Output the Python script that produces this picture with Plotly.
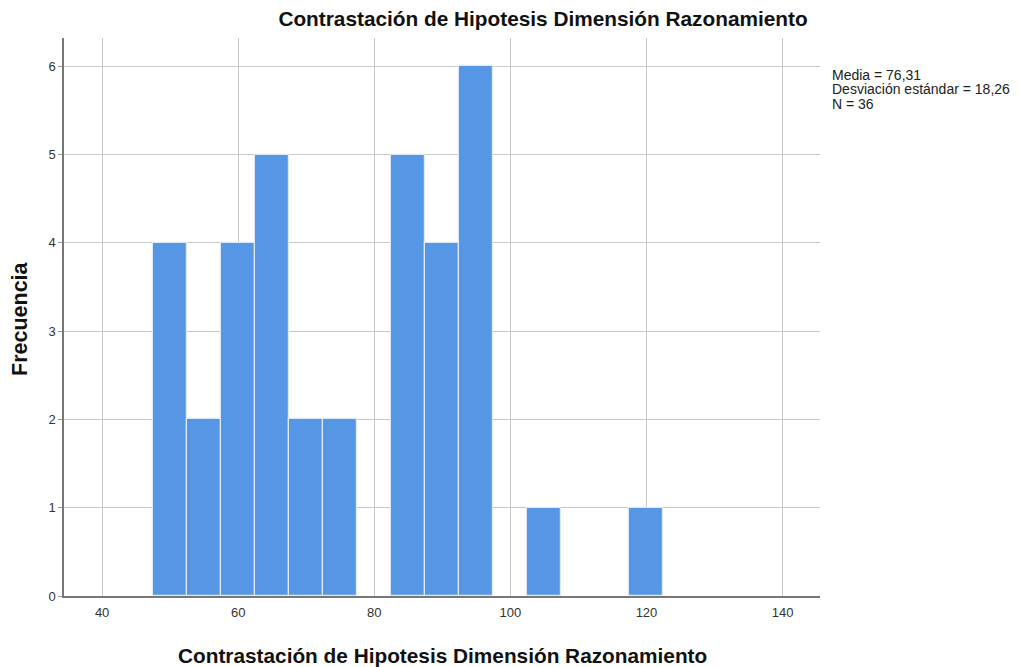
import plotly.graph_objects as go

bin_centers = [50, 55, 60, 65, 70, 75, 85, 90, 95, 105, 120]
counts = [4, 2, 4, 5, 2, 2, 5, 4, 6, 1, 1]
bin_width = 5
x_ticks = [40, 60, 80, 100, 120, 140]
y_ticks = [0, 1, 2, 3, 4, 5, 6]
title = "Contrastación de Hipotesis Dimensión Razonamiento"
y_title = "Frecuencia"
stats_lines = ["Media = 76,31", "Desviación estándar = 18,26", "N = 36"]

# the page body has an 8px margin, so figure coords = page coords - 8
OFF = 8
W, H = 1019 - OFF, 667 - OFF
L, T, R, B = 64 - OFF, 38 - OFF, 199, 71

fig = go.Figure()
fig.add_trace(go.Bar(
    x=bin_centers, y=counts, width=[bin_width] * len(bin_centers),
    marker=dict(color="#5597e5", line=dict(color="#dde9f8", width=1.2)),
    showlegend=False,
))

font = "Liberation Sans, Arial, sans-serif"
fig.update_layout(
    width=W, height=H,
    margin=dict(l=L, r=R, t=T, b=B, autoexpand=False),
    plot_bgcolor="white", paper_bgcolor="white",
    font=dict(family=font, size=12, color="#222"),
    title=dict(text="<b>" + title + "</b>", x=(543 - OFF) / W, xanchor="center",
               y=1 - (19 - OFF) / H, yanchor="middle", font=dict(size=20.8, color="#111")),
    bargap=0,
    xaxis=dict(range=[34.4, 145.5], tickvals=x_ticks, ticks="", showgrid=True,
               gridcolor="#c8c8c8", gridwidth=1.2, zeroline=False, automargin=False,
               showline=True, linecolor="#777", linewidth=1.5, ticklabelstandoff=4,
               tickfont=dict(size=13, color="#333")),
    yaxis=dict(range=[0, 6.32], tickvals=y_ticks, ticks="outside", ticklen=4, tickcolor="#999",
               showgrid=True, gridcolor="#c8c8c8", gridwidth=1.2, zeroline=False, automargin=False,
               showline=True, linecolor="#777", linewidth=1.5,
               tickfont=dict(size=13, color="#333")),
)

pw, ph = W - L - R, H - T - B


def px(xp):
    return (xp - OFF - L) / pw


def py(yp):
    return 1 - (yp - OFF - T) / ph


fig.add_annotation(x=px(443), y=py(655), xref="paper", yref="paper", showarrow=False,
                   xanchor="center", yanchor="middle", text="<b>" + title + "</b>",
                   font=dict(size=20.8, color="#111"))
fig.add_annotation(x=px(20), y=py(319), xref="paper", yref="paper", showarrow=False,
                   xanchor="center", yanchor="middle", textangle=-90, text="<b>" + y_title + "</b>",
                   font=dict(size=21.5, color="#111"))
for i, line in enumerate(stats_lines):
    fig.add_annotation(x=px(830), y=py(75 + 14.5 * i), xref="paper", yref="paper",
                       yanchor="middle", xanchor="left", align="left", showarrow=False,
                       text=line, font=dict(size=14, color="#222"))
fig.write_html("out.html")
